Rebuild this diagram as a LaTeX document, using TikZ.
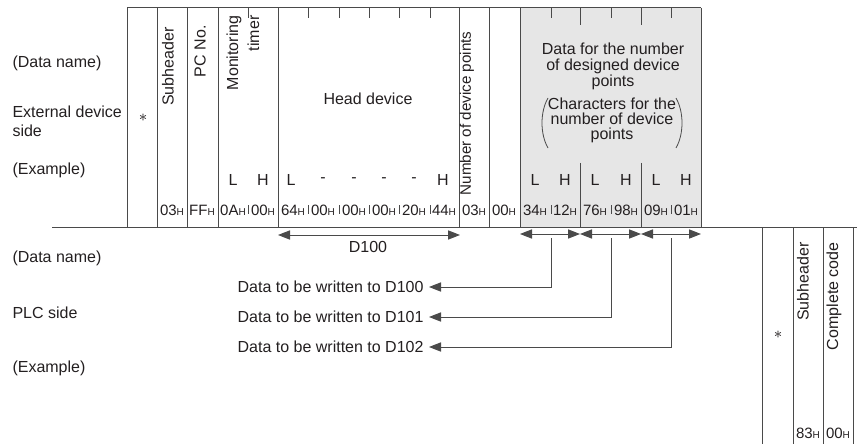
\documentclass[tikz,border=0pt]{standalone}
\usepackage{fontspec}
\setmainfont{Liberation Sans}
\usetikzlibrary{arrows.meta,positioning}
\definecolor{rule}{HTML}{4A4A4A}
\definecolor{ink}{HTML}{231F20}
\definecolor{fieldgray}{HTML}{E6E6E6}
\newcommand{\hexv}[1]{#1{\fontsize{5}{5}\selectfont H}}
\tikzset{
  txt/.style={font=\fontsize{8}{9.5}\selectfont,text=ink,inner sep=0pt},
  sidelbl/.style={txt,anchor=west,align=left},
  fieldlbl/.style={txt,rotate=90,anchor=east},
  hexval/.style={txt,font=\fontsize{7.5}{8}\selectfont},
  span/.style={draw=rule,{Triangle[length=6pt,width=4.6pt]}-{Triangle[length=6pt,width=4.6pt]}},
  lead/.style={draw=rule,-{Triangle[length=6pt,width=4.6pt]},shorten >=2.5pt},
}
\begin{document}
\begin{tikzpicture}[x=0.5pt,y=-0.5pt,line width=0.5pt]
\useasboundingbox (0,0) rectangle (857,444);
% External device side: frame
\fill[fieldgray] (520,8) rectangle (701,227);
\draw[rule] (127,8) -- (701,8);
\foreach \x in {127,157,187,218,278,459,489,520,701}
  \draw[rule] (\x,8) -- (\x,227);
\foreach \x in {580,641} {
  \draw[rule] (\x,8) -- (\x,25);
  \draw[rule] (\x,163) -- (\x,227);
}
% byte ticks
\foreach \x in {248,308,339,369,399,430,551,611,671} {
  \draw[rule] (\x,8) -- (\x,18);
  \draw[rule] (\x,205) -- (\x,214);
}
\draw[rule] (52,227) -- (857,227);
% row labels
\node[sidelbl] (dnE) at (12,63) {(Data name)};
\node[sidelbl] (sideE) at (12,121.5) {External device\\side};
\node[sidelbl] (exE) at (12,170) {(Example)};
% field names
\node[txt] (astE) at (143,118) {$\ast$};
\node[fieldlbl] (subE) at (168,27) {Subheader};
\node[fieldlbl] (pcno) at (200,25) {PC No.};
\node[fieldlbl,align=right,font=\fontsize{8}{10.5}\selectfont] (timer) at (243,15) {Monitoring\\timer};
\node[txt] (head) at (368,99) {Head device};
\node[fieldlbl,font=\fontsize{7.6}{9}\selectfont] (npts) at (467,31) {Number of device points};
\node[txt,align=center,font=\fontsize{8}{8}\selectfont] (ddata) at (613,66)
  {Data for the number\\of designed device\\points};
\node[txt,align=center,font=\fontsize{8}{7.5}\selectfont] (dchar) at (612,120)
  {Characters for the\\number of device\\points};
\draw[rule,line width=0.4pt] (548,98) .. controls (540,112) and (540,134) .. (548,148);
\draw[rule,line width=0.4pt] (676,98) .. controls (684,112) and (684,134) .. (676,148);
% byte order
\foreach \x/\t in {233/L,263/H,291/L,323/-,354/-,384/-,414/-,443/H,
                   535/L,565/H,595/L,626/H,656/L,686/H}
  \node[txt] (lh\x) at (\x,180) {\t};
% example values
\foreach \x/\v in {172/03,202/FF,233/0A,263/00,293/64,323/00,354/00,384/00,
                   414/20,444/44,474/03,504/00,535/34,565/12,595/76,626/98,
                   656/09,686/01}
  \node[hexval] (v\x) at (\x,210) {\hexv{\v}};
% PLC side
\node[sidelbl] (dnP) at (12,258) {(Data name)};
\node[sidelbl] (plc) at (12,313) {PLC side};
\node[sidelbl] (exP) at (12,368) {(Example)};
\coordinate (hdL) at (278,235);
\coordinate (hdR) at (460,235);
\draw[span] (hdL) -- (hdR);
\node[txt] (d100) at (368,247) {D100};
\foreach \i/\a/\b in {1/520/580,2/580/641,3/641/701} {
  \coordinate (wL\i) at (\a,234);
  \coordinate (wR\i) at (\b,234);
  \draw[span] (wL\i) -- (wR\i);
}
\node[txt,anchor=east] (w100) at (424,287) {Data to be written to D100};
\node[txt,anchor=east] (w101) at (424,317) {Data to be written to D101};
\node[txt,anchor=east] (w102) at (424,347) {Data to be written to D102};
\coordinate (t1) at (551,238);
\coordinate (t2) at (611,238);
\coordinate (t3) at (671,238);
\draw[lead] (t1) |- (w100.east);
\draw[lead] (t2) |- (w101.east);
\draw[lead] (t3) |- (w102.east);
% response frame
\foreach \x in {762,793,823,853}
  \draw[rule] (\x,227) -- (\x,444);
\node[txt] (astP) at (778,335) {$\ast$};
\node[fieldlbl] (subP) at (803,242) {Subheader};
\node[fieldlbl] (cmpl) at (834,242) {Complete code};
\node[hexval] (v83) at (808,433) {\hexv{83}};
\node[hexval] (v00) at (838,433) {\hexv{00}};
\end{tikzpicture}
\end{document}
